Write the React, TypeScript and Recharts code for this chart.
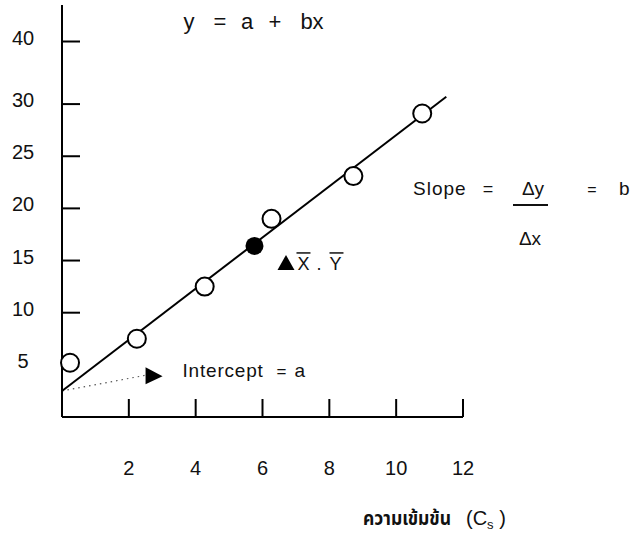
import { ComposedChart, XAxis, YAxis, Line, Scatter, Customized } from 'recharts'

// Calibration data: concentration vs. response
const xTicks = [2, 4, 6, 8, 10, 12]
const yTicks = [5, 10, 15, 20, 25, 30, 36]
const yTickLabels = ['5', '10', '15', '20', '25', '30', '40']

const sampleX = [0.24, 2.24, 4.27, 6.27, 8.72, 10.78]
const sampleY = [5.2, 7.5, 12.5, 19.0, 23.1, 29.1]

const meanX = [5.76]
const meanY = [16.4]

const fitX = [0, 11.5]
const fitY = [2.5, 30.7]

const interceptX = [0, 2.5]
const interceptY = [2.5, 4.0]

const samples = sampleX.map((x, i) => ({ x, y: sampleY[i] }))
const mean = meanX.map((x, i) => ({ x, y: meanY[i] }))
const fit = fitX.map((x, i) => ({ x, y: fitY[i] }))
const intercept = interceptX.map((x, i) => ({ x, y: interceptY[i] }))

const FONT = "'Liberation Sans', Arial, sans-serif"
const THAI = "'Noto Sans Thai', 'Noto Sans', sans-serif"

const XTick = ({ x, y, payload }: any) => (
  <g>
    <line x1={x} y1={y} x2={x} y2={y - 18} stroke="#000" strokeWidth={2} />
    <text x={x} y={y + 58} textAnchor="middle" fontSize={20} fontFamily={FONT} fill="#111">
      {payload.value}
    </text>
  </g>
)

const YTick = ({ x, y, payload, index }: any) => (
  <g>
    {payload.value !== 5 && (
      <line x1={x} y1={y} x2={x + 18} y2={y} stroke="#000" strokeWidth={2} />
    )}
    <text x={x - 39} y={y + 3} textAnchor="middle" fontSize={20} fontFamily={FONT} fill="#111">
      {yTickLabels[index]}
    </text>
  </g>
)

const OpenDot = ({ cx, cy }: any) => (
  <circle cx={cx} cy={cy} r={9} fill="#fff" stroke="#000" strokeWidth={2} />
)

// filled mean point with its (X̄, Ȳ) tag
const MeanDot = ({ cx, cy }: any) => (
  <g>
    <circle cx={cx} cy={cy} r={9} fill="#000" />
    <polygon
      points={`${cx + 23},${cy + 24} ${cx + 40},${cy + 24} ${cx + 31.5},${cy + 9}`}
      fill="#000"
    />
    <text x={cx + 43} y={cy + 24} fontSize={18} fontFamily={FONT} fill="#111">X</text>
    <line x1={cx + 42} y1={cy + 7} x2={cx + 56} y2={cy + 7} stroke="#111" strokeWidth={1.5} />
    <text x={cx + 62} y={cy + 24} fontSize={18} fontFamily={FONT} fill="#111">.</text>
    <text x={cx + 75} y={cy + 24} fontSize={18} fontFamily={FONT} fill="#111">Y</text>
    <line x1={cx + 75} y1={cy + 7} x2={cx + 89} y2={cy + 7} stroke="#111" strokeWidth={1.5} />
  </g>
)

// arrow head at the end of the dotted intercept guide
const ArrowHead = (props: any) => {
  const { cx, cy, index } = props
  if (index !== intercept.length - 1) return <g key={`a${index}`} />
  return (
    <g key={`a${index}`}>
      <polygon points={`${cx},${cy - 8} ${cx},${cy + 9} ${cx + 17},${cy + 1}`} fill="#000" />
      <text x={cx + 37} y={cy + 2} fontSize={19} letterSpacing={0.8} fontFamily={FONT} fill="#111">
        Intercept
      </text>
      <text x={cx + 131} y={cy + 2} fontSize={17} fontFamily={FONT} fill="#111">=</text>
      <text x={cx + 149} y={cy + 2} fontSize={19} fontFamily={FONT} fill="#111">a</text>
    </g>
  )
}

const Notes = () => (
  <g fontFamily={FONT} fill="#111">
    <text x={189} y={29} fontSize={22} textAnchor="middle">y</text>
    <text x={220} y={29} fontSize={22} textAnchor="middle">=</text>
    <text x={247} y={29} fontSize={22} textAnchor="middle">a</text>
    <text x={275} y={29} fontSize={22} textAnchor="middle">+</text>
    <text x={312} y={29} fontSize={22} textAnchor="middle">bx</text>

    <text x={413} y={195} fontSize={19} letterSpacing={1}>Slope</text>
    <text x={488} y={195} fontSize={18} textAnchor="middle">=</text>
    <text x={533} y={195} fontSize={19} textAnchor="middle">Δy</text>
    <line x1={513} y1={205} x2={548} y2={205} stroke="#111" strokeWidth={2} />
    <text x={530} y={245} fontSize={19} textAnchor="middle">Δx</text>
    <text x={592} y={195} fontSize={16} textAnchor="middle">=</text>
    <text x={619} y={195} fontSize={19}>b</text>

    <text
      x={363}
      y={525}
      fontSize={20}
      fontWeight="bold"
      fontFamily={THAI}
      textLength={88}
      lengthAdjust="spacingAndGlyphs"
    >
      ความเข้มข้น
    </text>
    <text x={466} y={525} fontSize={20} fontFamily={FONT}>
      (C<tspan fontSize={13} dy={4}>s</tspan>
      <tspan dy={-4}> )</tspan>
    </text>
  </g>
)

export default function App() {
  return (
    <div style={{ width: 631, height: 539, background: '#fff' }}>
      <style>{'body{margin:0}'}</style>
      <ComposedChart
        width={631}
        height={539}
        margin={{ top: 5, right: 168, left: 0, bottom: 0 }}
      >
        <XAxis
          type="number"
          dataKey="x"
          domain={[0, 12]}
          ticks={xTicks}
          height={122}
          tickSize={0}
          tickMargin={0}
          tick={<XTick />}
          axisLine={{ stroke: '#000', strokeWidth: 2 }}
          tickLine={false}
        />
        <YAxis
          type="number"
          dataKey="y"
          domain={[0, 39.5]}
          ticks={yTicks}
          width={62}
          tickSize={0}
          tickMargin={0}
          tick={<YTick />}
          axisLine={{ stroke: '#000', strokeWidth: 2 }}
          tickLine={false}
        />
        <Line
          data={intercept}
          dataKey="y"
          stroke="#555"
          strokeWidth={1.2}
          strokeDasharray="1.5 4"
          dot={ArrowHead}
          activeDot={false}
          isAnimationActive={false}
        />
        <Line
          data={fit}
          dataKey="y"
          stroke="#000"
          strokeWidth={2}
          dot={false}
          activeDot={false}
          isAnimationActive={false}
        />
        <Scatter data={samples} shape={OpenDot} isAnimationActive={false} />
        <Scatter data={mean} shape={MeanDot} isAnimationActive={false} />
        <Customized component={Notes} />
      </ComposedChart>
    </div>
  )
}
